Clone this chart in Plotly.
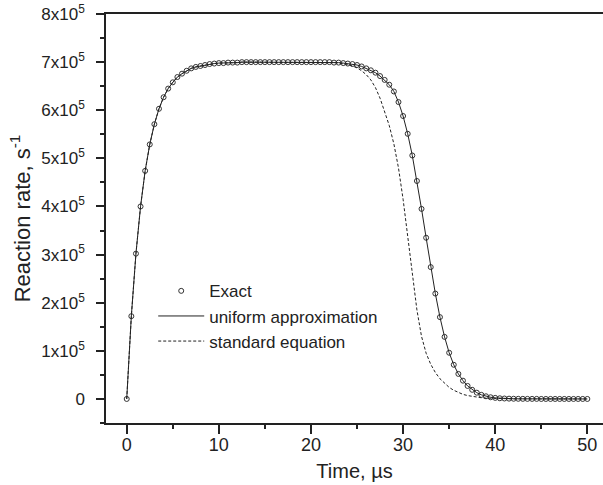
import plotly.graph_objects as go

# time grid (µs)
time_us = [
    0, 0.5, 1, 1.5, 2, 2.5, 3, 3.5, 4, 4.5,
    5, 5.5, 6, 6.5, 7, 7.5, 8, 8.5, 9, 9.5,
    10, 10.5, 11, 11.5, 12, 12.5, 13, 13.5, 14, 14.5,
    15, 15.5, 16, 16.5, 17, 17.5, 18, 18.5, 19, 19.5,
    20, 20.5, 21, 21.5, 22, 22.5, 23, 23.5, 24, 24.5,
    25, 25.5, 26, 26.5, 27, 27.5, 28, 28.5, 29, 29.5,
    30, 30.5, 31, 31.5, 32, 32.5, 33, 33.5, 34, 34.5,
    35, 35.5, 36, 36.5, 37, 37.5, 38, 38.5, 39, 39.5,
    40, 40.5, 41, 41.5, 42, 42.5, 43, 43.5, 44, 44.5,
    45, 45.5, 46, 46.5, 47, 47.5, 48, 48.5, 49, 49.5,
    50,
]

# reaction rate, units of 1e5 s^-1
exact_e5 = [
    0, 1.72, 3.02, 4.00, 4.74, 5.29, 5.71, 6.03, 6.27, 6.45,
    6.58, 6.69, 6.76, 6.82, 6.87, 6.90, 6.92, 6.94, 6.96, 6.97,
    6.98, 6.98, 6.99, 6.99, 6.99, 7.00, 7.00, 7.00, 7.00, 7.00,
    7.00, 7.00, 7.00, 7.00, 7.00, 7.00, 7.00, 7.00, 7.00, 7.00,
    7.00, 7.00, 7.00, 7.00, 7.00, 6.99, 6.99, 6.98, 6.97, 6.96,
    6.94, 6.91, 6.87, 6.83, 6.78, 6.71, 6.63, 6.53, 6.39, 6.17,
    5.88, 5.51, 5.06, 4.53, 3.95, 3.35, 2.74, 2.19, 1.70, 1.29,
    0.96, 0.71, 0.52, 0.38, 0.27, 0.19, 0.13, 0.085, 0.055, 0.035,
    0.022, 0.014, 0.009, 0.006, 0.004, 0.003, 0.002, 0.001, 0.001, 0.001,
    0, 0, 0, 0, 0, 0, 0, 0, 0, 0,
    0,
]

uniform_e5 = list(exact_e5)

standard_e5 = [
    0, 1.72, 3.02, 4.00, 4.74, 5.29, 5.71, 6.03, 6.27, 6.45,
    6.58, 6.69, 6.76, 6.82, 6.87, 6.90, 6.92, 6.94, 6.96, 6.97,
    6.98, 6.98, 6.99, 6.99, 6.99, 7.00, 7.00, 7.00, 7.00, 7.00,
    7.00, 7.00, 7.00, 7.00, 7.00, 7.00, 7.00, 7.00, 7.00, 7.00,
    7.00, 7.00, 7.00, 7.00, 6.99, 6.99, 6.98, 6.97, 6.95, 6.92,
    6.88, 6.82, 6.74, 6.63, 6.47, 6.25, 5.98, 5.68, 5.30, 4.80,
    4.15, 3.35, 2.55, 1.85, 1.30, 0.95, 0.72, 0.55, 0.42, 0.32,
    0.24, 0.18, 0.13, 0.095, 0.07, 0.05, 0.035, 0.025, 0.017, 0.012,
    0.008, 0.005, 0.003, 0.002, 0.001, 0, 0, 0, 0, 0,
    0, 0, 0, 0, 0, 0, 0, 0, 0, 0,
    0,
]

y_tick_vals_e5 = [0, 1, 2, 3, 4, 5, 6, 7, 8]
y_tick_text = ["0"] + [f"{v}x10<sup>5</sup>" for v in y_tick_vals_e5[1:]]
x_tick_vals = [0, 10, 20, 30, 40, 50]

SCALE = 1e5
FONT = "Arial, Liberation Sans, sans-serif"
INK = "#222222"

fig = go.Figure()
fig.add_trace(go.Scatter(
    x=time_us, y=[v * SCALE for v in exact_e5], mode="markers", name="Exact",
    marker=dict(symbol="circle-open", size=5, color="#333333", line=dict(width=1)),
))
fig.add_trace(go.Scatter(
    x=time_us, y=[v * SCALE for v in uniform_e5], mode="lines", name="uniform approximation",
    line=dict(color=INK, width=1),
))
fig.add_trace(go.Scatter(
    x=time_us, y=[v * SCALE for v in standard_e5], mode="lines", name="standard equation",
    line=dict(color=INK, width=1, dash="3px,2px"),
))

fig.update_layout(
    width=603, height=485,
    margin=dict(l=106, r=0, t=14, b=62),
    plot_bgcolor="white", paper_bgcolor="white",
    font=dict(family=FONT, size=17, color=INK),
    showlegend=True,
    legend=dict(
        x=0.095, y=0.366, xanchor="left", yanchor="top",
        bgcolor="rgba(0,0,0,0)", borderwidth=0,
        font=dict(family=FONT, size=17, color=INK),
        itemwidth=46, traceorder="normal",
    ),
)

fig.update_xaxes(
    range=[-2.25, 51.7], tickmode="array", tickvals=x_tick_vals,
    ticks="outside", ticklen=9, tickwidth=1.5, tickcolor=INK,
    tickfont=dict(size=18), ticklabelstandoff=-4,
    minor=dict(dtick=5, tick0=0, ticks="outside", ticklen=4, tickwidth=1.5, tickcolor=INK),
    showline=True, linewidth=1.5, linecolor=INK, mirror=True,
    showgrid=False, zeroline=False,
    title=dict(text="Time, µs", font=dict(size=20), standoff=10),
)
fig.update_yaxes(
    range=[-0.5 * SCALE, 8 * SCALE], tickmode="array",
    tickvals=[v * SCALE for v in y_tick_vals_e5], ticktext=y_tick_text,
    ticks="outside", ticklen=8, tickwidth=1.5, tickcolor=INK,
    tickfont=dict(size=17),
    minor=dict(dtick=0.5 * SCALE, tick0=0, ticks="outside", ticklen=4, tickwidth=1.5, tickcolor=INK),
    showline=True, linewidth=1.5, linecolor=INK,
    showgrid=False, zeroline=False, ticklabelstandoff=8,
    title=dict(text="Reaction rate, s<sup>-1</sup>", font=dict(size=22), standoff=5),
)

fig.write_html("out.html")
